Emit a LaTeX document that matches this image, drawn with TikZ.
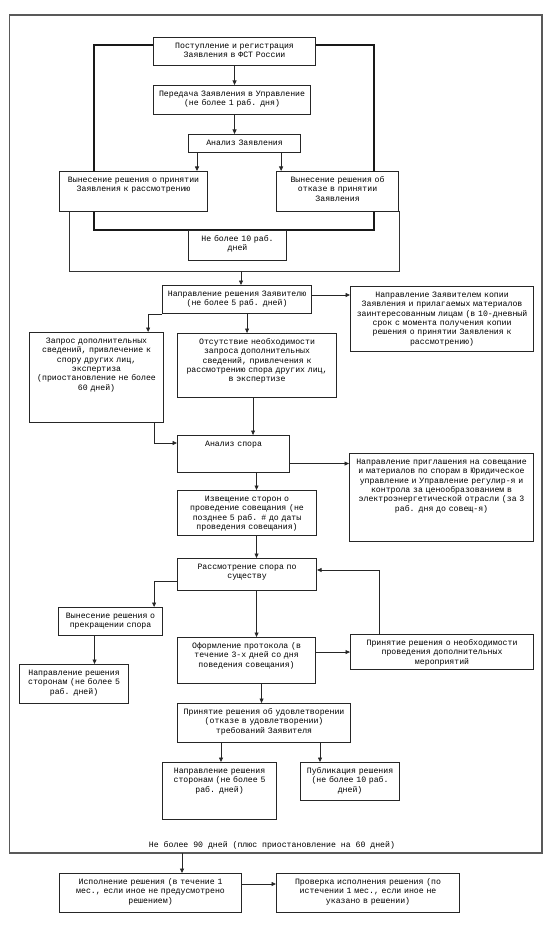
\documentclass[tikz,border=0pt]{standalone}
\usepackage{fontspec}
\setmonofont{Liberation Mono}
\usetikzlibrary{arrows.meta}

\begin{document}
\begin{tikzpicture}[x=1pt, y=-1pt, >={Triangle[length=4.5pt, width=4pt]},
    box/.style={draw=black!85, fill=white, line width=1.1pt, anchor=north west, align=center,
      font=\ttfamily\fontsize{8.2pt}{9.3pt}\selectfont, inner xsep=1pt, inner ysep=3pt, text height=8pt},
    sz/.style 2 args={minimum width=#1pt, text width=#1pt-2pt, minimum height=#2pt, text depth=#2pt-14pt},
    arr/.style={->, line width=0.8pt, color=black!85},
    grpframe/.style={line width=1.8pt, color=black!90},
    thinframe/.style={line width=0.9pt, color=black!80},
    outerframe/.style={line width=1.3pt, color=black!65},
]
  \useasboundingbox (0,0) rectangle (548,928);

  % === Frames ===
  \draw[outerframe] (9.5,15) rectangle (542,853);
  \draw[grpframe] (94,45) rectangle (374,230);
  \draw[thinframe] (69,211) |- (399,271) -- (399,211);
  \coordinate (acceptS) at (241,271);
  \coordinate (frameS) at (182,853);

  % === Registration of the application ===
  \node[box, sz={162}{28}] (reg) at (153,37) {Поступление и регистрация\\Заявления в ФСТ России};
  \node[box, sz={157}{29}] (transfer) at (153,85) {Передача Заявления в Управление\\(не более 1 раб. дня)};
  \node[box, sz={112}{18}] (analysis) at (188,134) {Анализ Заявления};
  \node[box, sz={148}{40}] (accept) at (59,171) {Вынесение решения о принятии\\Заявления к рассмотрению};
  \node[box, sz={122}{40}] (reject) at (276,171) {Вынесение решения об\\отказе в принятии\\Заявления};
  \node[box, sz={98}{30}] (days10) at (188,230) {Не более 10 раб.\\дней};

  % === Preparation ===
  \node[box, sz={149}{28}] (notify) at (162,285) {Направление решения Заявителю\\(не более 5 раб. дней)};
  \node[box, sz={183}{65}] (copies) at (350,286) {Направление Заявителем копии\\Заявления и прилагаемых материалов\\заинтересованным лицам (в 10-дневный\\срок с момента получения копии\\решения о принятии Заявления к\\рассмотрению)};
  \node[box, sz={134}{90}] (request) at (29,332) {Запрос дополнительных\\сведений, привлечение к\\спору других лиц,\\экспертиза\\(приостановление не более\\60 дней)};
  \node[box, sz={159}{64}] (norequest) at (177,333) {Отсутствие необходимости\\запроса дополнительных\\сведений, привлечения к\\рассмотрению спора других лиц,\\в экспертизе};

  % === Dispute ===
  \node[box, sz={112}{37}] (dispute) at (177,435) {Анализ спора};
  \node[box, sz={184}{88}] (invite) at (349,453) {Направление приглашения на совещание\\и материалов по спорам в Юридическое\\управление и Управление регулир-я и\\контрола за ценообразованием в\\электроэнергетической отрасли (за 3\\раб. дня до совещ-я)};
  \node[box, sz={139}{45}] (inform) at (177,490) {Извещение сторон о\\проведение совещания (не\\позднее 5 раб. \# до даты\\проведения совещания)};
  \node[box, sz={139}{32}] (merits) at (177,558) {Рассмотрение спора по\\существу};
  \node[box, sz={104}{28}] (stop) at (58,607) {Вынесение решения о\\прекращении спора};
  \node[box, sz={138}{46}] (protocol) at (177,637) {Оформление протокола (в\\течение 3-х дней со дня\\поведения совещания)};
  \node[box, sz={183}{35}] (extra) at (350,634) {Принятие решения о необходимости\\проведения дополнительных\\мероприятий};
  \node[box, sz={109}{39}] (sides1) at (19,664) {Направление решения\\сторонам (не более 5\\раб. дней)};
  \node[box, sz={173}{39}] (satisfy) at (177,703) {Принятие решения об удовлетворении\\(отказе в удовлетворении)\\требований Заявителя};
  \node[box, sz={114}{57}] (sides2) at (162,762) {Направление решения\\сторонам (не более 5\\раб. дней)};
  \node[box, sz={99}{38}] (publish) at (300,762) {Публикация решения\\(не более 10 раб.\\дней)};
  \node[font=\ttfamily\fontsize{8.2pt}{9.3pt}\selectfont] (limit90) at (272,845) {Не более 90 дней (плюс приостановление на 60 дней)};

  % === Execution ===
  \node[box, sz={182}{39}] (execute) at (59,873) {Исполнение решения (в течение 1\\мес., если иное не предусмотрено\\решением)};
  \node[box, sz={183}{39}] (check) at (276,873) {Проверка исполнения решения (по\\истечении 1 мес., если иное не\\указано в решении)};

  % === Arrows ===
  \draw[arr] (reg.south) -- (reg.south |- transfer.north);
  \draw[arr] (transfer.south -| reg.south) -- (reg.south |- analysis.north);
  \draw[arr] ([xshift=9pt]analysis.south west) -- ([xshift=9pt]analysis.south west |- accept.north);
  \draw[arr] ([xshift=-20pt]analysis.south east) -- ([xshift=-20pt]analysis.south east |- reject.north);
  \draw[arr] (acceptS) -- (acceptS |- notify.north);
  \draw[arr] ([yshift=-10pt]notify.north east) -- ([yshift=-10pt]notify.north east -| copies.west);
  \draw[arr] (notify.south west) -| ([xshift=-16pt]request.north east);
  \draw[arr] ([xshift=10pt]notify.south) -- ([xshift=10pt]notify.south |- norequest.north);
  \draw[arr] ([xshift=-4pt]norequest.south) -- ([xshift=-4pt]norequest.south |- dispute.north);
  \draw[arr] ([xshift=-10pt]request.south east) |- ([yshift=-8pt]dispute.north west);
  \draw[arr] ([yshift=-9.5pt]dispute.east) -- ([yshift=-9.5pt]dispute.east -| invite.west);
  \draw[arr] ([xshift=23pt]dispute.south) -- ([xshift=23pt]dispute.south |- inform.north);
  \draw[arr] ([xshift=9.5pt]inform.south) -- ([xshift=9.5pt]inform.south |- merits.north);
  \draw[arr] ([yshift=-7pt]merits.west) -| ([xshift=-9pt]stop.north east);
  \draw[arr] ([xshift=9.5pt]merits.south) -- ([xshift=9.5pt]merits.south |- protocol.north);
  \draw[arr] (extra.west -| protocol.east) -- (extra.west);
  \draw[arr] ([xshift=29pt]extra.north west) |- ([yshift=-12pt]merits.north east);
  \draw[arr] ([xshift=-16pt]stop.south) -- ([xshift=-16pt]stop.south |- sides1.north);
  \draw[arr] ([xshift=15pt]protocol.south) -- ([xshift=15pt]protocol.south |- satisfy.north);
  \draw[arr] ([xshift=44pt]satisfy.south west) -- ([xshift=44pt]satisfy.south west |- sides2.north);
  \draw[arr] ([xshift=143pt]satisfy.south west) -- ([xshift=143pt]satisfy.south west |- publish.north);
  \draw[arr] (frameS) -- (frameS |- execute.north);
  \draw[arr] ([yshift=-11pt]execute.north east) -- ([yshift=-11pt]execute.north east -| check.west);
\end{tikzpicture}
\end{document}
